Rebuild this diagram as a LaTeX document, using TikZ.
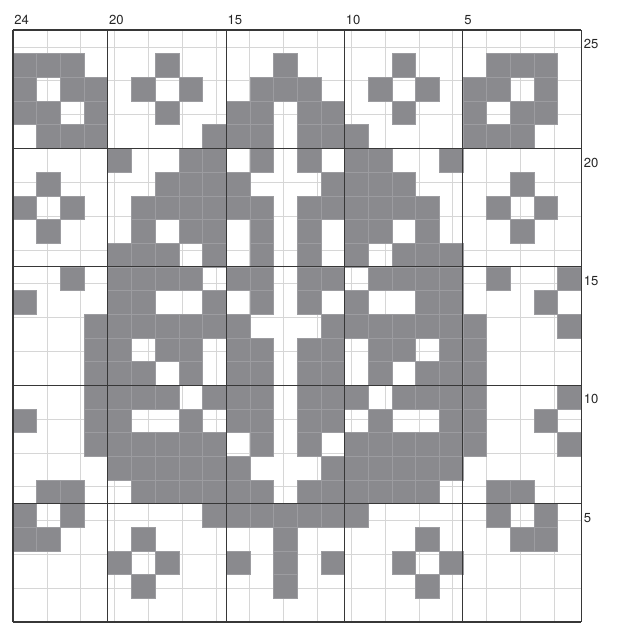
\documentclass[tikz,border=0pt]{standalone}
\usepackage{fontspec}
\setmainfont{TeX Gyre Heros}
\definecolor{cellgray}{RGB}{138,138,142}
\definecolor{cellline}{RGB}{156,156,160}
\definecolor{thingrid}{RGB}{214,214,214}
\definecolor{thickgrid}{RGB}{55,55,55}
\begin{document}
\begin{tikzpicture}[x=0.7cm, y=0.7cm, font=\fontsize{11}{13}\selectfont]
	\tikzset{cell/.style={fill=cellgray, draw=cellline, line width=0.4pt},
		thin grid/.style={draw=thingrid, line width=0.5pt},
		thick grid/.style={draw=thickgrid, line width=0.9pt},
		numlabel/.style={inner sep=0pt, text=black!85}}
	\useasboundingbox (-0.549,-0.085) rectangle (25.549,26.267);
	\draw[thin grid] (0,0) grid (24,25);
	\foreach \r/\cols in {1/{0,1,2,6,11,16,20,21,22}, 2/{0,2,3,5,7,10,11,12,15,17,19,20,22},
		3/{0,1,3,6,9,10,12,13,16,19,21,22}, 4/{1,2,3,8,9,10,12,13,14,19,20,21},
		5/{4,7,8,10,12,14,15,18}, 6/{1,6,7,8,9,13,14,15,16,21},
		7/{0,2,5,6,7,8,9,10,12,13,14,15,16,17,20,22}, 8/{1,5,7,8,10,12,14,15,17,21},
		9/{4,5,6,8,10,12,14,16,17,18}, 10/{2,4,5,6,7,9,10,12,13,15,16,17,18,20,23},
		11/{0,4,5,8,10,12,14,17,18,22}, 12/{3,4,5,6,7,8,9,13,14,15,16,17,18,19,23},
		13/{3,4,6,7,9,10,12,13,15,16,18,19}, 14/{3,4,5,7,9,10,12,13,15,17,18,19},
		15/{3,4,5,6,8,9,10,12,13,14,16,17,18,19,23}, 16/{0,3,4,7,9,10,12,13,15,18,19,22},
		17/{3,4,5,6,7,8,10,12,14,15,16,17,18,19,23}, 18/{4,5,6,7,8,9,13,14,15,16,17,18},
		19/{1,2,5,6,7,8,9,10,12,13,14,15,16,17,20,21}, 20/{0,2,8,9,10,11,12,13,14,20,22},
		21/{0,1,5,11,17,21,22}, 22/{4,6,9,11,13,16,18}, 23/{5,11,17}}
		\foreach \c in \cols
			\filldraw[cell] (\c,24-\r) rectangle ++(1,1);
	\foreach \x in {0,4,9,14,19,24}
		\draw[thick grid] (\x,0) -- (\x,25);
	\foreach \y in {0,5,10,15,20,25}
		\draw[thick grid] (0,\y) -- (24,\y);
	\foreach \n/\x in {24/0,20/4,15/9,10/14,5/19}
		\node[numlabel, anchor=base west] (col\n) at (\x+0.05,25.23) {\n};
	\foreach \n in {25,20,15,10,5}
		\node[numlabel, anchor=west] (row\n) at (24.1,\n-0.6) {\n};
\end{tikzpicture}
\end{document}
